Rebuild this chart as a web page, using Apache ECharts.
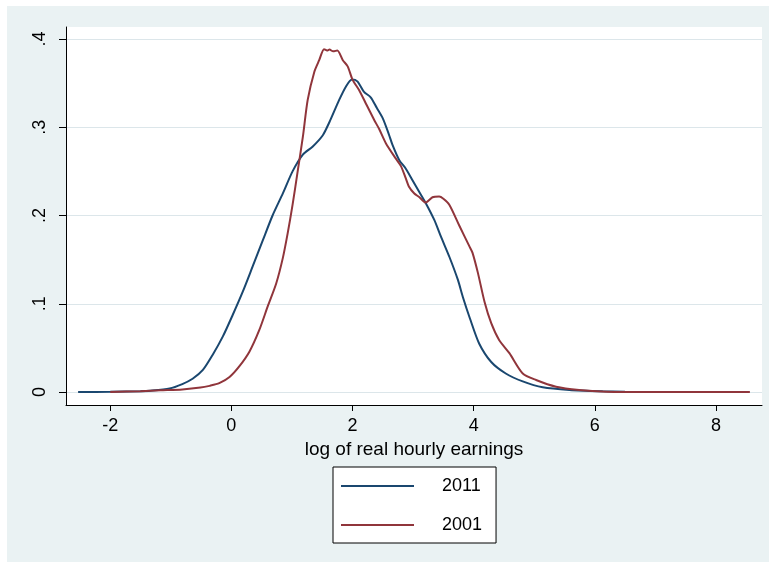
<!DOCTYPE html>
<html>
<head>
<meta charset="utf-8">
<script src="https://cdn.jsdelivr.net/npm/echarts@6/dist/echarts.min.js"></script>
<style>html,body{margin:0;padding:0;background:#fff}#c{width:769px;height:568px}</style>
</head>
<body>
<div id="c"></div>
<script>
// Kernel density, 2011
const xs2011 = [-2.53,-2.0,-1.5,-1.34,-1.02,-0.81,-0.64,-0.47,-0.31,-0.14,0.02,0.19,0.35,0.52,0.68,0.85,1.01,1.18,1.34,1.51,1.62,1.78,1.89,1.99,2.08,2.19,2.3,2.4,2.5,2.6,2.66,2.77,2.88,2.99,3.10,3.21,3.35,3.46,3.60,3.74,3.82,3.94,4.09,4.29,4.53,4.81,5.14,5.58,6.13,6.5];
const ys2011 = [0,0.0003,0.001,0.0015,0.004,0.009,0.015,0.025,0.042,0.063,0.087,0.114,0.142,0.172,0.200,0.225,0.250,0.269,0.278,0.291,0.306,0.331,0.346,0.354,0.352,0.340,0.334,0.322,0.310,0.292,0.280,0.263,0.253,0.240,0.227,0.214,0.195,0.176,0.153,0.127,0.108,0.083,0.055,0.034,0.021,0.012,0.0053,0.0023,0.0008,0.0003];
// Kernel density, 2001
const xs2001 = [-2.0,-1.5,-1.17,-0.81,-0.51,-0.36,-0.2,-0.03,0.13,0.30,0.46,0.60,0.74,0.85,0.93,1.01,1.09,1.18,1.26,1.37,1.45,1.53,1.58,1.62,1.68,1.75,1.84,1.92,2.0,2.11,2.22,2.36,2.44,2.55,2.71,2.80,2.88,2.93,3.02,3.10,3.21,3.32,3.43,3.50,3.60,3.76,3.93,3.98,4.07,4.18,4.29,4.42,4.59,4.81,5.03,5.36,5.74,6.19,6.8,8.56];
const ys2001 = [0,0.001,0.002,0.003,0.005,0.007,0.010,0.017,0.029,0.046,0.070,0.097,0.123,0.152,0.180,0.212,0.248,0.289,0.331,0.363,0.376,0.3885,0.387,0.388,0.386,0.387,0.376,0.369,0.354,0.342,0.327,0.308,0.298,0.282,0.265,0.256,0.242,0.233,0.225,0.221,0.2147,0.2207,0.2215,0.219,0.212,0.189,0.165,0.158,0.135,0.102,0.078,0.059,0.044,0.021,0.0136,0.006,0.0023,0.0004,0.0001,0];
const xTicks = [-2, 0, 2, 4, 6, 8];
const yTicks = [0, 0.1, 0.2, 0.3, 0.4];
const seriesNames = ['2011', '2001'];
const xTitle = 'log of real hourly earnings';

const FONT = "'Liberation Sans', Arial, sans-serif";
const chart = echarts.init(document.getElementById('c'), null, {renderer: 'canvas'});
chart.setOption({
  backgroundColor: '#ffffff',
  animation: false,
  graphic: [{
    type: 'rect', z: -100, silent: true,
    shape: {x: 7, y: 6, width: 762, height: 556},
    style: {fill: '#EAF2F3'}
  }],
  grid: {
    left: 66, top: 27, width: 696, height: 378,
    show: true, backgroundColor: '#ffffff', borderWidth: 0
  },
  xAxis: {
    type: 'value', min: -2.73, max: 8.76,
    name: xTitle, nameLocation: 'middle', nameGap: 33,
    nameTextStyle: {color: '#000', fontSize: 19, fontFamily: FONT},
    axisLine: {show: true, onZero: false, lineStyle: {color: '#000', width: 1}},
    axisTick: {show: true, length: 6, customValues: xTicks, lineStyle: {color: '#000'}},
    axisLabel: {customValues: xTicks, color: '#000', fontSize: 18, fontFamily: FONT, margin: 12},
    splitLine: {show: false}
  },
  yAxis: {
    type: 'value', min: -0.0147, max: 0.4136,
    axisLine: {show: true, onZero: false, lineStyle: {color: '#000', width: 1}},
    axisTick: {show: true, length: 7, customValues: yTicks, lineStyle: {color: '#000'}},
    axisLabel: {
      customValues: yTicks, rotate: 90, color: '#000', fontSize: 18, fontFamily: FONT, margin: 17,
      formatter: v => v === 0 ? '0' : String(v).replace(/^0/, '')
    },
    splitLine: {show: true, lineStyle: {color: '#DCE6EA', width: 1}}
  },
  legend: {
    left: 333, top: 467, orient: 'vertical',
    backgroundColor: '#ffffff', borderColor: '#000', borderWidth: 1,
    padding: [9, 14, 8, 8], itemGap: 19,
    icon: 'rect', itemWidth: 73, itemHeight: 2,
    textStyle: {color: '#000', fontSize: 18, fontFamily: FONT, lineHeight: 20, padding: [0, 0, 0, 23]},
    data: seriesNames
  },
  series: [
    {
      name: seriesNames[0], type: 'line', showSymbol: false, symbol: 'none',
      smooth: 0.25,
      lineStyle: {color: '#1A476F', width: 2}, itemStyle: {color: '#1A476F'},
      data: xs2011.map((x, i) => [x, ys2011[i]])
    },
    {
      name: seriesNames[1], type: 'line', showSymbol: false, symbol: 'none',
      smooth: 0.25,
      lineStyle: {color: '#90353B', width: 2}, itemStyle: {color: '#90353B'},
      data: xs2001.map((x, i) => [x, ys2001[i]])
    }
  ]
});
</script>
</body>
</html>
